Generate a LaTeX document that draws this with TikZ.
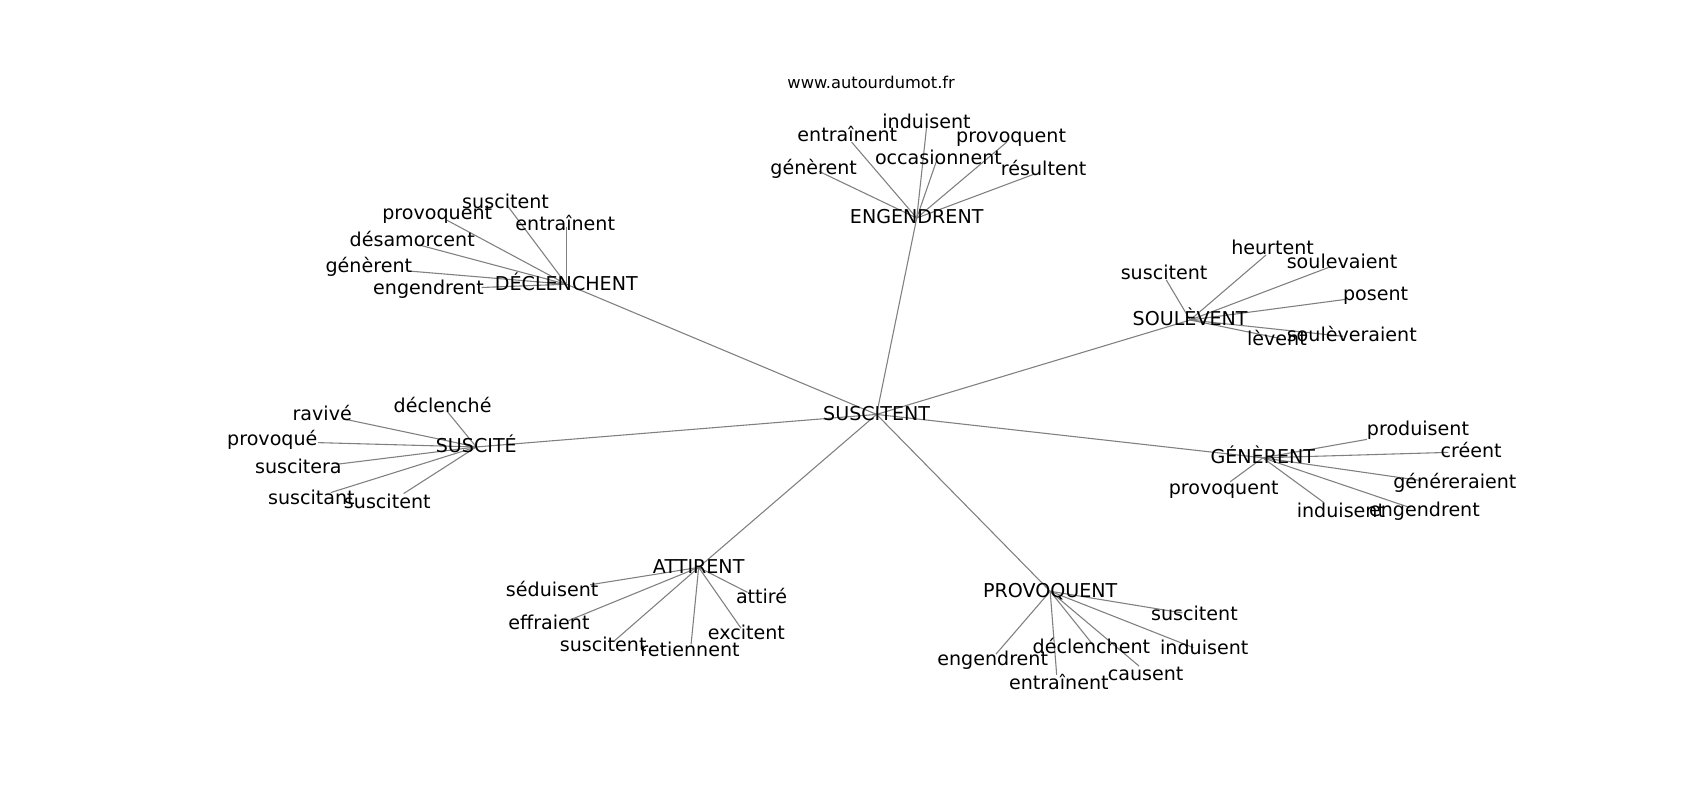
\documentclass[tikz,border=0pt]{standalone}
\usepackage{fontspec}
\setmainfont{DejaVu Sans}
\usetikzlibrary{backgrounds}
\begin{document}
\begin{tikzpicture}[x=0.5pt, y=-0.5pt,
    word/.style={font=\fontsize{8.8}{10}\selectfont, inner sep=0pt, text height=0.76em, text depth=0.22em},
    link/.style={draw=gray, line width=0.5pt}]
  \useasboundingbox (0,0) rectangle (1567,737);
  \node[font=\fontsize{7.5}{9}\selectfont, inner sep=0pt] (site) at (803,76) {www.autourdumot.fr};
  % hubs
  \node[word] (sus) at (808,382) {SUSCITENT};
  \node[word] (eng) at (845,201) {ENGENDRENT};
  \node[word] (dec) at (522,262) {DÉCLENCHENT};
  \node[word] (sou) at (1097,295) {SOULÈVENT};
  \node[word] (ste) at (439,412) {SUSCITÉ};
  \node[word] (gen) at (1164,422) {GÉNÈRENT};
  \node[word] (att) at (644,523) {ATTIRENT};
  \node[word] (pro) at (968,545) {PROVOQUENT};
  \begin{scope}[on background layer]
    \foreach \h in {eng,dec,sou,ste,gen,att,pro}
      \draw[link] (sus.center) -- (\h.center);
  \end{scope}
  % leaves: hub/index/end x/end y/label x/label y/text
  \foreach \h/\k/\nx/\ny/\lx/\ly/\w in {
      eng/1/755/158/750/155/génèrent, eng/2/785/131/781/125/entraînent,
      eng/3/854/118/854/113/induisent, eng/4/863/149/865/146/occasionnent,
      eng/5/928/131/932/126/provoquent, eng/6/952/161/962/156/résultent,
      dec/1/468/190/466/187/suscitent, dec/2/522/209/521/207/entraînent,
      dec/3/412/203/403/197/provoquent, dec/4/387/226/380/222/désamorcent,
      dec/5/379/250/340/246/génèrent, dec/6/444/265/395/266/engendrent,
      sou/1/1075/258/1073/252/suscitent, sou/2/1167/235/1173/229/heurtent,
      sou/3/1226/246/1237/242/soulevaient, sou/4/1240/276/1268/272/posent,
      sou/5/1238/310/1246/309/soulèveraient, sou/6/1180/312/1177/313/lèvent,
      ste/1/412/379/408/375/déclenché, ste/2/316/386/297/382/ravivé,
      ste/3/293/408/251/405/provoqué, ste/4/310/428/275/431/suscitera,
      ste/5/305/454/287/460/suscitant, ste/6/372/455/357/463/suscitent,
      gen/1/1260/405/1307/396/produisent, gen/2/1335/417/1356/416/créent,
      gen/3/1310/443/1341/445/généreraient, gen/4/1134/444/1128/450/provoquent,
      gen/5/1220/463/1236/472/induisent, gen/6/1300/468/1313/471/engendrent,
      att/1/544/539/509/544/séduisent, att/2/524/572/506/575/effraient,
      att/3/566/591/556/595/suscitent, att/4/637/594/636/600/retiennent,
      att/5/683/579/688/584/excitent, att/6/689/546/702/551/attiré,
      pro/1/1090/565/1101/567/suscitent, pro/2/1100/597/1110/598/induisent,
      pro/3/1050/614/1056/622/causent, pro/4/1008/595/1006/597/déclenchent,
      pro/5/974/622/976/630/entraînent, pro/6/918/603/915/608/engendrent}
  {
    \coordinate (\h\k) at (\nx,\ny);
    \node[word] (\h\k w) at (\lx,\ly) {\w};
    \begin{scope}[on background layer]
      \draw[link] (\h.center) -- (\h\k);
    \end{scope}
  }
\end{tikzpicture}
\end{document}
